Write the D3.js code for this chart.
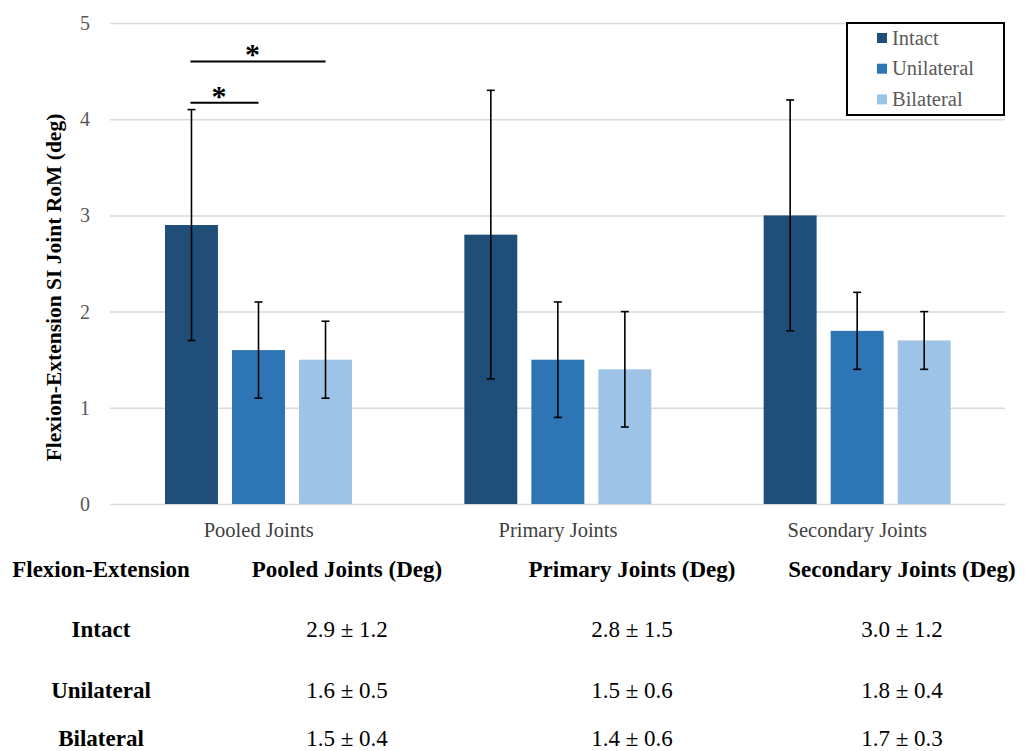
<!DOCTYPE html>
<html>
<head>
<meta charset="utf-8">
<script src="https://cdn.jsdelivr.net/npm/d3@7"></script>
<style>
  body { margin: 0; background: #fff; }
  svg { display: block; font-family: "Liberation Serif", "Times New Roman", serif; }
</style>
</head>
<body>
<div id="chart"></div>
<script>
const categories = ["Pooled Joints", "Primary Joints", "Secondary Joints"];
const series = ["Intact", "Unilateral", "Bilateral"];
const intactMean = [2.9, 2.8, 3.0];
const intactSD = [1.2, 1.5, 1.2];
const unilateralMean = [1.6, 1.5, 1.8];
const unilateralSD = [0.5, 0.6, 0.4];
const bilateralMean = [1.5, 1.4, 1.7];
const bilateralSD = [0.4, 0.6, 0.3];
const yTicks = [0, 1, 2, 3, 4, 5];
const tableHeader = ["Flexion-Extension", "Pooled Joints (Deg)", "Primary Joints (Deg)", "Secondary Joints (Deg)"];
// significance brackets: from one bar to another, drawn at a given level
const sigCategory = ["Pooled Joints", "Pooled Joints"];
const sigFrom = ["Intact", "Intact"];
const sigTo = ["Unilateral", "Bilateral"];
const sigLevel = [4.17, 4.6];

const means = [intactMean, unilateralMean, bilateralMean];
const sds = [intactSD, unilateralSD, bilateralSD];
const data = [];
categories.forEach((c, i) => {
  series.forEach((s, j) => {
    data.push({ cat: c, series: s, mean: means[j][i], sd: sds[j][i] });
  });
});

const width = 1033;
const height = 751;
const plot = { left: 109, right: 1007, top: 23, bottom: 504 };
const colors = ["#1F4E79", "#2E75B6", "#9DC3E6"];
const gridColor = "#D9D9D9";
const textGray = "#595959";

const svg = d3.select("#chart").append("svg")
  .attr("width", width)
  .attr("height", height)
  .attr("viewBox", [0, 0, width, height]);

svg.append("rect").attr("width", width).attr("height", height).attr("fill", "#fff");

const x0 = d3.scaleBand()
  .domain(categories)
  .range([plot.left, plot.right])
  .padding(0);

const x1 = d3.scaleBand()
  .domain(series)
  .range([56, 243])
  .paddingInner(0.21);

const y = d3.scaleLinear()
  .domain([0, 5])
  .range([plot.bottom, plot.top]);

const color = d3.scaleOrdinal().domain(series).range(colors);

// y axis + gridlines
svg.append("g")
  .attr("transform", `translate(${plot.left + 1},0)`)
  .call(d3.axisLeft(y).tickValues(yTicks).tickFormat(d3.format("d"))
    .tickSize(-(plot.right - plot.left - 3)).tickPadding(20))
  .call((g) => g.select(".domain").remove())
  .call((g) => g.selectAll(".tick line").attr("stroke", gridColor).attr("stroke-width", 1.5))
  .call((g) => g.selectAll(".tick text")
    .attr("fill", textGray)
    .style("font-size", "20px")
    .style("font-family", "Liberation Serif"));

// x axis labels
svg.append("g")
  .attr("transform", `translate(0,${plot.bottom})`)
  .call(d3.axisBottom(x0).tickSize(0).tickPadding(18))
  .call((g) => g.select(".domain").remove())
  .call((g) => g.selectAll(".tick text")
    .attr("fill", "#404040")
    .style("font-size", "20.5px")
    .style("font-family", "Liberation Serif"));

// y axis title
svg.append("text")
  .attr("transform", `translate(61,${(plot.top + plot.bottom) / 2 + 24}) rotate(-90)`)
  .attr("text-anchor", "middle")
  .attr("font-weight", "bold")
  .style("font-size", "21.5px")
  .attr("fill", "#000")
  .text("Flexion-Extension SI Joint RoM (deg)");

// bars
const barX = (d) => x0(d.cat) + x1(d.series);

svg.append("g")
  .selectAll("rect")
  .data(data)
  .join("rect")
  .attr("x", barX)
  .attr("y", (d) => y(d.mean))
  .attr("width", x1.bandwidth())
  .attr("height", (d) => y(0) - y(d.mean))
  .attr("fill", (d) => color(d.series));

// error bars
const err = svg.append("g")
  .attr("stroke", "#000")
  .attr("stroke-width", 1.6)
  .selectAll("g")
  .data(data)
  .join("g")
  .attr("transform", (d) => `translate(${barX(d) + x1.bandwidth() / 2},0)`);

err.append("line")
  .attr("y1", (d) => y(d.mean - d.sd))
  .attr("y2", (d) => y(d.mean + d.sd));
err.append("line")
  .attr("x1", -4).attr("x2", 4)
  .attr("y1", (d) => y(d.mean + d.sd))
  .attr("y2", (d) => y(d.mean + d.sd));
err.append("line")
  .attr("x1", -4).attr("x2", 4)
  .attr("y1", (d) => y(d.mean - d.sd))
  .attr("y2", (d) => y(d.mean - d.sd));

// significance brackets
const sig = sigLevel.map((lv, i) => ({
  xa: x0(sigCategory[i]) + x1(sigFrom[i]) + x1.bandwidth() / 2,
  xb: x0(sigCategory[i]) + x1(sigTo[i]) + x1.bandwidth() / 2,
  level: lv,
}));

const sigG = svg.append("g").selectAll("g").data(sig).join("g");
sigG.append("line")
  .attr("x1", (d) => d.xa - 1)
  .attr("x2", (d) => d.xb)
  .attr("y1", (d) => y(d.level))
  .attr("y2", (d) => y(d.level))
  .attr("stroke", "#000")
  .attr("stroke-width", 2);
sigG.append("text")
  .attr("x", (d) => (d.xa + d.xb) / 2)
  .attr("dx", -6)
  .attr("y", (d) => y(d.level) + 3)
  .attr("text-anchor", "middle")
  .attr("font-weight", "bold")
  .style("font-size", "30px")
  .text("*");

// legend
const legend = svg.append("g").attr("transform", "translate(847,23)");
legend.append("rect")
  .attr("width", 157)
  .attr("height", 92)
  .attr("fill", "#fff")
  .attr("stroke", "#000")
  .attr("stroke-width", 2);
const li = legend.selectAll(".legend")
  .data(series)
  .join("g")
  .attr("transform", (d, i) => `translate(30,${15 + i * 30.7})`);
li.append("rect")
  .attr("x", 0)
  .attr("y", -5)
  .attr("width", 10)
  .attr("height", 10)
  .attr("fill", color);
li.append("text")
  .attr("x", 15)
  .attr("dy", "0.33em")
  .attr("fill", textGray)
  .style("font-size", "20.5px")
  .text((d) => d);

// table under the chart
const colX = [101, 347, 632, 902];
const rowY = [637, 698, 746];

svg.append("g")
  .selectAll("text")
  .data(tableHeader)
  .join("text")
  .attr("x", (d, i) => colX[i])
  .attr("y", 577)
  .attr("text-anchor", "middle")
  .attr("font-weight", "bold")
  .style("font-size", "23px")
  .text((d) => d);

const rows = svg.append("g")
  .selectAll("g")
  .data(series)
  .join("g")
  .attr("transform", (d, i) => `translate(0,${rowY[i]})`);

rows.append("text")
  .attr("x", colX[0])
  .attr("text-anchor", "middle")
  .attr("font-weight", "bold")
  .style("font-size", "23px")
  .text((d) => d);

rows.selectAll(".val")
  .data((d, j) => categories.map((c, i) => `${means[j][i].toFixed(1)} ± ${sds[j][i].toFixed(1)}`))
  .join("text")
  .attr("class", "val")
  .attr("x", (d, i) => colX[i + 1])
  .attr("text-anchor", "middle")
  .style("font-size", "23px")
  .text((d) => d);
</script>
</body>
</html>
